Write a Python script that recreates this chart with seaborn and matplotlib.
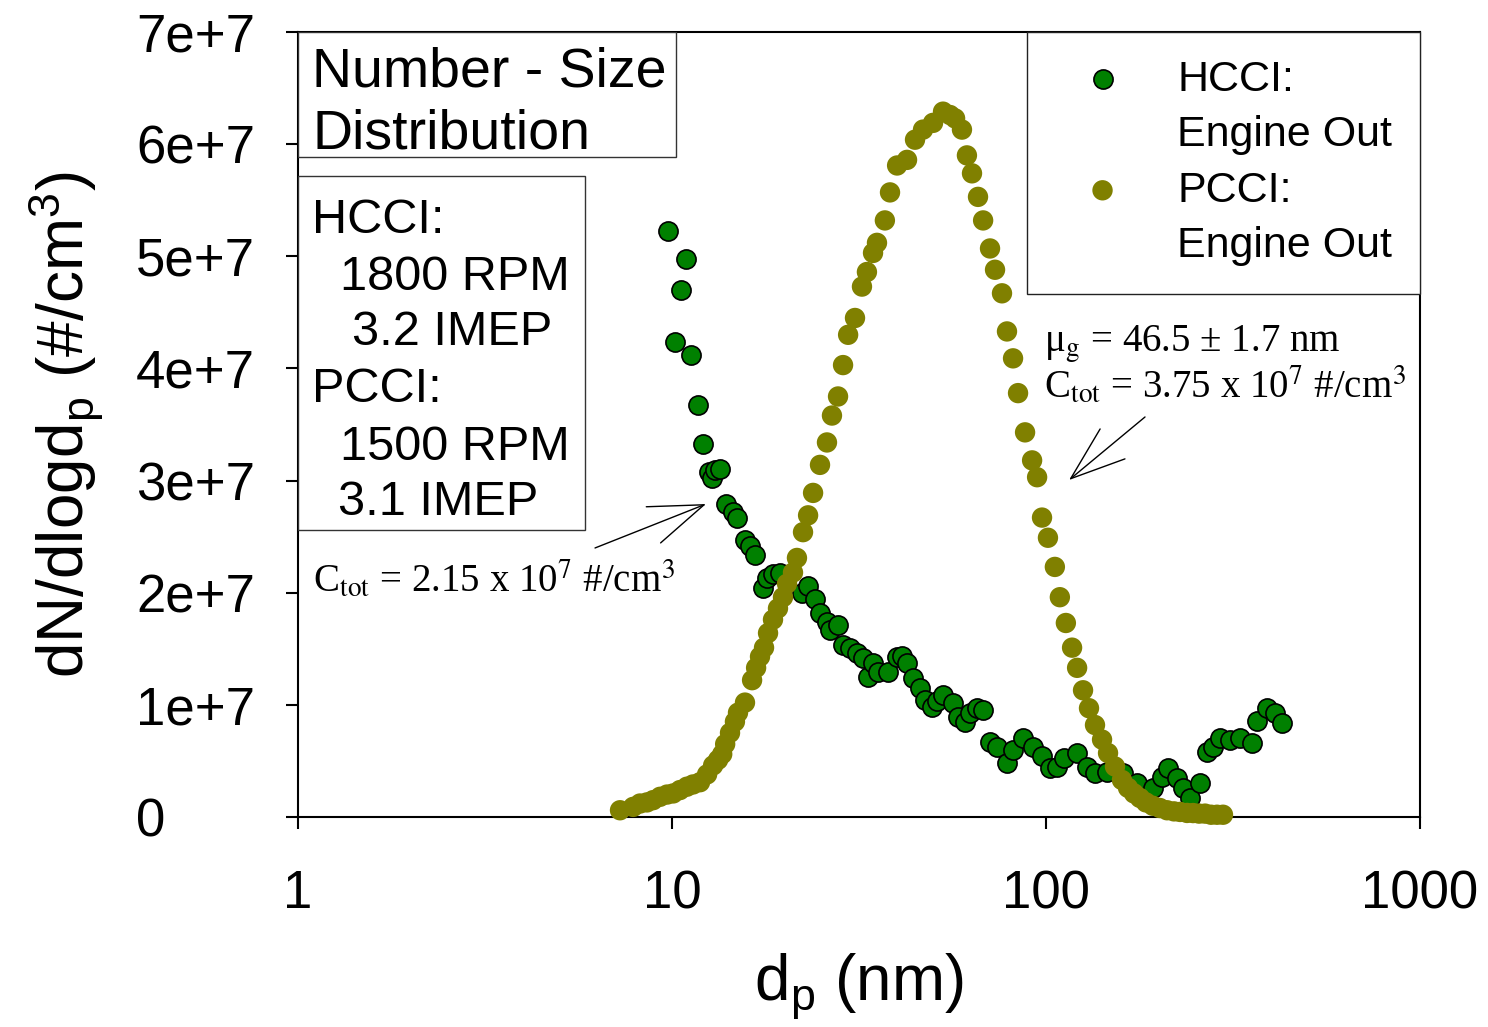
import numpy as np
import pandas as pd
import matplotlib
matplotlib.use("Agg")
import matplotlib.pyplot as plt
import seaborn as sns
from matplotlib.patches import Rectangle
from matplotlib.lines import Line2D
from matplotlib.ticker import NullLocator

# -------------------------
# DATA (dp in nm, dN/dlogdp in units of 1e7 #/cm3)
# -------------------------
hcci_dp = [9.76, 10.19, 10.57, 10.90, 11.24, 11.74, 12.10, 12.56, 12.80, 13.03,
           13.44, 13.94, 14.56, 14.92, 15.67, 16.17, 16.67, 17.5, 17.9, 18.6,
           19.4, 22.3, 23.1, 24.1, 24.9, 26.0, 26.4, 27.8, 28.6, 29.9,
           31.2, 32.4, 33.4, 34.5, 35.5, 37.8, 40.0, 41.2, 42.5, 44.1,
           46.0, 47.5, 49.6, 51.1, 53.0, 56.4, 58.2, 60.7, 62.6, 65.4,
           68.0, 70.8, 73.9, 78.7, 81.6, 86.8, 92.3, 97.6, 102.5, 107.0,
           112.0, 121.0, 129.0, 135.0, 146.0, 161.0, 175.0, 193.0, 204.0, 212.0,
           224.0, 232.0, 243.0, 258.0, 269.0, 280.0, 292.0, 310.0, 330.0, 356.0,
           367.0, 390.0, 410.0, 428.0]
hcci_conc = [5.23, 4.24, 4.70, 4.98, 4.12, 3.67, 3.33, 3.08, 3.02, 3.09,
             3.10, 2.79, 2.72, 2.67, 2.47, 2.42, 2.34, 2.04, 2.13, 2.17,
             2.18, 2.00, 2.06, 1.94, 1.82, 1.74, 1.67, 1.71, 1.53, 1.51,
             1.46, 1.42, 1.25, 1.37, 1.29, 1.29, 1.43, 1.44, 1.37, 1.24,
             1.15, 1.04, 0.98, 1.03, 1.09, 1.02, 0.89, 0.85, 0.93, 0.97,
             0.95, 0.67, 0.62, 0.48, 0.60, 0.70, 0.62, 0.54, 0.44, 0.45,
             0.53, 0.57, 0.45, 0.39, 0.40, 0.39, 0.30, 0.26, 0.36, 0.44,
             0.35, 0.26, 0.17, 0.30, 0.58, 0.62, 0.70, 0.69, 0.70, 0.66,
             0.86, 0.97, 0.93, 0.84]

pcci_dp = [7.26, 7.87, 8.21, 8.57, 8.90, 9.29, 9.70, 10.07, 10.5, 10.96,
           11.38, 11.88, 12.41, 12.88, 13.28, 13.62, 13.87, 14.29, 14.73, 15.01,
           15.67, 16.37, 16.78, 17.19, 17.62, 18.06, 18.62, 19.20, 19.80, 20.30,
           21.06, 21.58, 22.40, 23.11, 23.83, 24.87, 25.96, 26.77, 27.79, 28.66,
           29.57, 30.85, 32.20, 33.20, 34.47, 35.32, 37.08, 38.27, 39.98, 42.50,
           44.64, 46.90, 49.88, 53.04, 55.38, 57.13, 59.60, 61.45, 63.40, 65.79,
           67.89, 70.84, 73.06, 76.26, 78.64, 81.63, 84.18, 87.90, 91.79, 94.66,
           97.57, 101.2, 105.6, 108.9, 113.0, 117.4, 121.1, 125.6, 130.3, 135.2,
           141.2, 146.5, 152.9, 159.6, 165.7, 171.9, 178.3, 185.0, 193.1, 201.6,
           210.7, 219.9, 228.2, 238.3, 247.3, 256.6, 266.2, 276.3, 286.6, 297.3]
pcci_conc = [0.06, 0.09, 0.12, 0.13, 0.15, 0.18, 0.20, 0.21, 0.24, 0.27,
             0.29, 0.31, 0.38, 0.46, 0.51, 0.56, 0.65, 0.75, 0.85, 0.93,
             1.02, 1.22, 1.33, 1.43, 1.51, 1.64, 1.76, 1.86, 1.96, 2.08,
             2.18, 2.31, 2.54, 2.69, 2.89, 3.14, 3.34, 3.58, 3.75, 4.03,
             4.30, 4.45, 4.73, 4.86, 5.03, 5.12, 5.32, 5.57, 5.81, 5.86,
             6.04, 6.13, 6.19, 6.29, 6.26, 6.23, 6.13, 5.90, 5.74, 5.53,
             5.32, 5.07, 4.88, 4.67, 4.33, 4.09, 3.78, 3.43, 3.18, 3.03,
             2.67, 2.49, 2.23, 1.96, 1.73, 1.51, 1.33, 1.13, 0.97, 0.82,
             0.69, 0.57, 0.45, 0.33, 0.26, 0.21, 0.17, 0.13, 0.10, 0.08,
             0.06, 0.05, 0.045, 0.036, 0.035, 0.03, 0.03, 0.02, 0.02, 0.02]

x_ticks = [1, 10, 100, 1000]
x_tick_labels = ["1", "10", "100", "1000"]
y_ticks = [0, 1e7, 2e7, 3e7, 4e7, 5e7, 6e7, 7e7]
y_tick_labels = ["0", "1e+7", "2e+7", "3e+7", "4e+7", "5e+7", "6e+7", "7e+7"]

# -------------------------
# STYLE
# -------------------------
sns.set_style("ticks")
plt.rcParams["font.family"] = ["Liberation Sans", "DejaVu Sans"]
plt.rcParams["mathtext.fontset"] = "custom"
plt.rcParams["mathtext.rm"] = "Liberation Sans"
plt.rcParams["mathtext.it"] = "Liberation Sans:italic"
plt.rcParams["mathtext.bf"] = "Liberation Sans:bold"
for k in ["text.color", "axes.labelcolor", "xtick.color", "ytick.color"]:
    plt.rcParams[k] = "black"

df_h = pd.DataFrame({"dp": hcci_dp, "conc": np.array(hcci_conc) * 1e7})
df_p = pd.DataFrame({"dp": pcci_dp, "conc": np.array(pcci_conc) * 1e7})

fig = plt.figure(figsize=(14.88, 10.27), dpi=100)
ax = fig.add_axes([0.2003, 0.2045, 0.754, 0.7643])

sns.scatterplot(data=df_h, x="dp", y="conc", color="#008000", edgecolor="black",
                linewidth=1.2, s=190, ax=ax, label="HCCI:", zorder=3, clip_on=False)
sns.scatterplot(data=df_p, x="dp", y="conc", color="#808000", edgecolor="none",
                linewidth=0, s=215, ax=ax, label="PCCI:", zorder=4, clip_on=False)

ax.set_xscale("log")
ax.set_xlim(1, 1000)
ax.set_ylim(0, 7e7)
ax.xaxis.set_minor_locator(NullLocator())
ax.yaxis.set_minor_locator(NullLocator())
ax.set_xticks(x_ticks, x_tick_labels)
ax.set_yticks(y_ticks, y_tick_labels, ha="left")

for sp in ax.spines.values():
    sp.set_linewidth(1.5)
    sp.set_color("black")
ax.tick_params(axis="both", which="major", direction="out", length=8.5,
               width=1.5, labelsize=38, color="black", labelcolor="black")
ax.tick_params(axis="x", pad=29)
ax.tick_params(axis="y", pad=108)

ax.set_xlabel(r"d$_{\rm p}$ (nm)", fontsize=46)
ax.set_ylabel(r"dN/dlogd$_{\rm p}$ (#/cm$^3$)", fontsize=46)
ax.xaxis.set_label_coords(0.5, -0.172)
ax.yaxis.set_label_coords(-0.171, 0.5)

# legend with first-line markers
hs, _ = ax.get_legend_handles_labels()
blank = Line2D([], [], linestyle="none")
leg = ax.legend([hs[0], blank, hs[1], blank],
                ["HCCI:", "Engine Out", "PCCI:", "Engine Out"],
                loc="upper right", bbox_to_anchor=(1, 1), borderaxespad=0,
                fancybox=False, edgecolor="#222222", framealpha=1, fontsize=31,
                borderpad=0.64, handlelength=2.24, handletextpad=0.62,
                labelspacing=0.36)
leg.get_frame().set_linewidth(1.0)
leg.set_zorder(6)

# text boxes
ax.add_patch(Rectangle((0, 0.8408), 0.3369, 0.1592, transform=ax.transAxes,
                       facecolor="white", edgecolor="#333333", lw=1.0, zorder=5))
ax.add_patch(Rectangle((0, 0.3656), 0.2558, 0.451, transform=ax.transAxes,
                       facecolor="white", edgecolor="#333333", lw=1.0, zorder=5))

for txt, x, y in [("Number - Size", 0.0125, 0.930), ("Distribution", 0.0125, 0.8522)]:
    ax.text(x, y, txt, transform=ax.transAxes, fontsize=40, va="baseline", zorder=6)

box_lines = [("HCCI:", 0.0125, 0.7439), ("1800 RPM", 0.0374, 0.6713),
             ("3.2 IMEP", 0.0481, 0.6013), ("PCCI:", 0.0125, 0.5287),
             ("1500 RPM", 0.0374, 0.4548), ("3.1 IMEP", 0.0357, 0.3847)]
for txt, x, y in box_lines:
    ax.text(x, y, txt, transform=ax.transAxes, fontsize=35, va="baseline", zorder=6)

# annotations (Times-like)
serif = dict(fontsize=28, family="Liberation Serif", math_fontfamily="stix",
             va="baseline", transform=ax.transAxes, zorder=6)
ax.text(0.0134, 0.2866, r"C$_{\rm tot}$ = 2.15 x 10$^7$ #/cm$^3$", **serif)
ax.text(0.6645, 0.5924, r"μ$_{\rm g}$ = 46.5 ± 1.7 nm", **serif)
ax.text(0.6645, 0.5338, r"C$_{\rm tot}$ = 3.75 x 10$^7$ #/cm$^3$", **serif)

arrow = dict(arrowstyle="->,head_length=1.4,head_width=0.5", lw=1.0,
             color="black", shrinkA=0, shrinkB=0, mutation_scale=28)
ax.annotate("", xy=(0.3636, 0.3987), xytext=(0.2647, 0.3427),
            xycoords="axes fraction", textcoords="axes fraction", arrowprops=arrow)
ax.annotate("", xy=(0.6872, 0.4293), xytext=(0.7549, 0.5096),
            xycoords="axes fraction", textcoords="axes fraction", arrowprops=arrow)

fig.savefig("out.png", dpi=100)
